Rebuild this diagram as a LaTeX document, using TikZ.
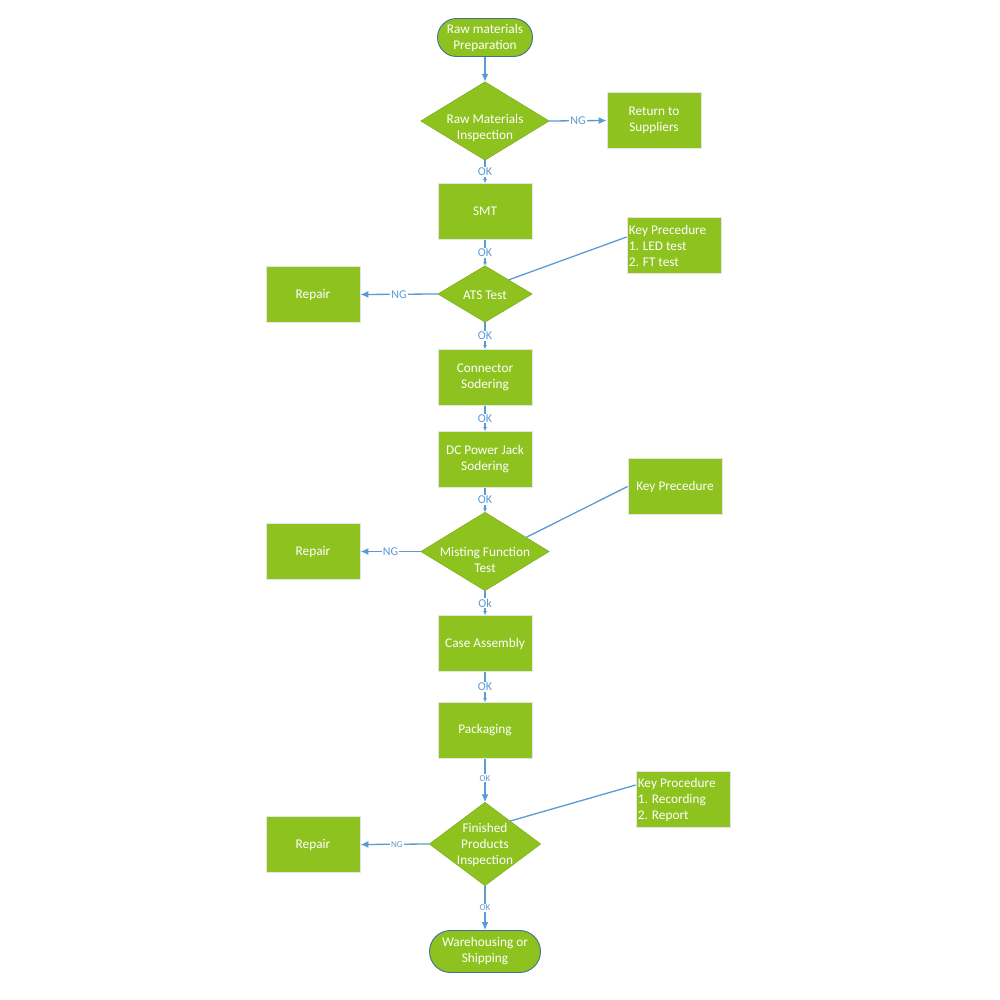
\documentclass[tikz,border=0pt]{standalone}
\usepackage{fontspec}
\setmainfont{Carlito}
\usetikzlibrary{arrows.meta,backgrounds,calc}
\definecolor{fillg}{RGB}{141,194,31}
\definecolor{lineb}{RGB}{91,155,213}
\definecolor{termb}{RGB}{65,113,156}
\tikzset{
  x=1pt, y=-1pt,
  txt/.style={text=white, align=center, font=\fontsize{13.3}{16}\selectfont, inner sep=0pt},
  box/.style={txt, rectangle, fill=fillg, draw=black!10, line width=0.8pt, minimum width=94pt, minimum height=56pt},
  term/.style={txt, rectangle, rounded corners=19pt, fill=fillg, draw=termb, line width=0.9pt},
  diashape/.style={rectangle, inner sep=0pt},
  diafill/.style={fill=fillg, draw=fillg!85!black, line width=0.4pt},
  keytext/.style={txt, align=left, anchor=west},
  conn/.style={draw=lineb, line width=1.3pt},
  arr/.style={conn, -{Latex[length=8pt,width=7pt]}},
  sarr/.style={conn, -{Latex[length=4pt,width=4pt]}},
  lab/.style={fill=white, text=lineb, inner sep=1pt, font=\fontsize{12}{14}\selectfont},
  slab/.style={fill=white, text=lineb, inner sep=1pt, font=\fontsize{9}{11}\selectfont},
}
\begin{document}
\begin{tikzpicture}
\useasboundingbox (0,0) rectangle (1000,1000);

% start terminal
\node[term, minimum width=95pt, minimum height=38pt] (start) at (485,37.5) {Raw materials\\Preparation};

% diamond 1
\node[diashape, minimum width=128pt, minimum height=78pt] (d1) at (485,121) {};
\node[txt] (d1t) at (485,128) {Raw Materials\\Inspection};
\node[box] (ret) at (654,120.5) {Return to\\Suppliers};
\node[box] (smt) at (485,211.5) {SMT};

% ATS diamond
\node[diashape, minimum width=94pt, minimum height=56pt] (ats) at (485,294) {};
\node[txt] (atst) at (485,295) {ATS Test};
\node[box] (rep1) at (313,294.5) {Repair};
\node[box] (key1) at (674,245) {};
\node[keytext] (key1t) at ($(key1.west)+(2,1)$) {Key Precedure\\1. LED test\\2. FT test};

\node[box] (con) at (485,377.5) {Connector\\Sodering};
\node[box] (dc) at (485,459.5) {DC Power Jack\\Sodering};

% Misting diamond
\node[diashape, minimum width=128pt, minimum height=78pt] (mis) at (485,551.5) {};
\node[txt] (mist) at (485,560) {Misting Function\\Test};
\node[box] (rep2) at (313,551.5) {Repair};
\node[box] (key2) at (675,486.5) {Key Precedure};

\node[box] (case) at (485,643.5) {Case Assembly};
\node[box] (pack) at (485,730.5) {Packaging};

% Finished diamond
\node[diashape, minimum width=111pt, minimum height=83pt] (fin) at (485,844) {};
\node[txt] (fint) at (485,844.5) {Finished\\Products\\Inspection};
\node[box] (rep3) at (313,844.5) {Repair};
\node[box] (key3) at (683,799) {};
\node[keytext] (key3t) at ($(key3.west)+(2,1)$) {Key Procedure\\1. Recording\\2. Report};

\node[term, minimum width=111pt, minimum height=42pt, rounded corners=21pt] (ware) at (485,951.5) {Warehousing or\\Shipping};

\begin{scope}[on background layer]
  \fill[white] (0,0) rectangle (1000,1000);
  \foreach \d in {d1,ats,mis,fin}{
    \path[diafill] (\d.north) -- (\d.east) -- (\d.south) -- (\d.west) -- cycle;
  }
\end{scope}

% connectors
\draw[arr] (start.south) -- (d1.north);
\draw[arr] (d1.east) -- node[lab]{NG} (ret.west);
\draw[sarr] (d1.south) -- node[lab]{OK} (smt.north);
\draw[sarr] (smt.south) -- node[lab]{OK} (ats.north);
\draw[arr] (ats.west) -- node[lab]{NG} (rep1.east);
\draw[conn] ($(ats.north)!0.5!(ats.east)$) -- ($(key1.west)+(0,-8)$);
\draw[sarr] (ats.south) -- node[lab]{OK} (con.north);
\draw[sarr] (con.south) -- node[lab]{OK} (dc.north);
\draw[sarr] (dc.south) -- node[lab]{OK} (mis.north);
\draw[arr] (mis.west) -- node[lab]{NG} (rep2.east);
\draw[conn] ($(mis.north)!0.64!(mis.east)$) -- (key2.west);
\draw[sarr] (mis.south) -- node[lab]{Ok} (case.north);
\draw[sarr] (case.south) -- node[lab]{OK} (pack.north);
\draw[arr] (pack.south) -- node[slab, pos=0.45]{OK} (fin.north);
\draw[arr] (fin.west) -- node[slab, pos=0.47]{NG} (rep3.east);
\draw[conn] ($(fin.north)!0.45!(fin.east)$) -- ($(key3.west)+(0,-14)$);
\draw[arr] (fin.south) -- node[slab, pos=0.5]{OK} (ware.north);
\end{tikzpicture}
\end{document}
